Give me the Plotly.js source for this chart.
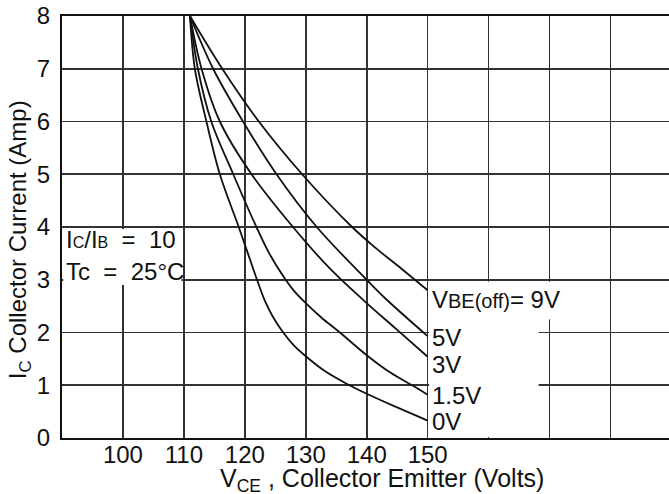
<!DOCTYPE html>
<html>
<head>
<meta charset="utf-8">
<script src="https://cdn.plot.ly/plotly-3.0.1.min.js"></script>
<style>html,body{margin:0;padding:0;background:#fff;}#chart{width:669px;height:494px;}</style>
</head>
<body>
<div id="chart"></div>
<script>
// ---- data ----
const seriesNames = ['0V', '1.5V', '3V', '5V', '9V'];
const vce_0V   = [111, 111.8, 113.7, 115.9, 119.0, 120.5, 122.0, 123.3, 124.6, 126.3, 128.0, 130.0, 133.0, 136.7, 140.0, 145.0, 150.0];
const ic_0V    = [8.0, 7.0, 6.0, 5.0, 4.0, 3.5, 3.0, 2.6, 2.3, 2.0, 1.76, 1.55, 1.28, 1.03, 0.84, 0.58, 0.33];
const vce_1p5V = [111, 112.3, 114.5, 118.1, 121.9, 124.0, 126.7, 128.0, 129.8, 132.5, 135.6, 140.0, 144.0, 147.6, 150.0];
const ic_1p5V  = [8.0, 7.0, 6.0, 5.0, 4.0, 3.5, 3.0, 2.8, 2.58, 2.29, 2.0, 1.57, 1.23, 0.99, 0.82];
const vce_3V   = [111, 112.9, 115.9, 121.1, 127.9, 133.9, 139.4, 145.0, 150.0];
const ic_3V    = [8.0, 7.0, 6.0, 5.0, 4.0, 3.22, 2.62, 2.05, 1.54];
const vce_5V   = [111, 114.8, 119.7, 125.2, 131.8, 140.0, 143.2, 150.0];
const ic_5V    = [8.0, 7.0, 6.0, 5.0, 4.0, 3.0, 2.63, 1.93];
const vce_9V   = [111, 116.3, 122.3, 129.4, 137.6, 141.5, 145.8, 150.0];
const ic_9V    = [8.0, 7.0, 6.0, 5.0, 4.0, 3.6, 3.2, 2.8];
const xTickVals = [100, 110, 120, 130, 140, 150, 160, 170, 180];
const xTickText = ['100', '110', '120', '130', '140', '150', ' ', ' ', ' '];
const yTickVals = [0, 1, 2, 3, 4, 5, 6, 7, 8];
const curveLabels = ['0V', '1.5V', '3V', '5V', 'V<span style="font-size:20px">BE(off)</span>= 9V'];
const curveLabelY = [0.31, 0.80, 1.40, 1.90, 2.62];

const FONT = 'Liberation Sans, Arial, sans-serif';
const xs = [vce_0V, vce_1p5V, vce_3V, vce_5V, vce_9V];
const ys = [ic_0V, ic_1p5V, ic_3V, ic_5V, ic_9V];

const traces = seriesNames.map((n, i) => ({
  type: 'scatter', mode: 'lines', name: n,
  x: xs[i], y: ys[i],
  line: {color: '#111', width: 1.8, shape: 'spline', smoothing: 1},
  hoverinfo: 'skip'
}));

const annotations = curveLabels.map((t, i) => ({
  x: 150.4, y: curveLabelY[i], xref: 'x', yref: 'y',
  text: t, showarrow: false, xanchor: 'left', yanchor: 'middle',
  font: {family: FONT, size: 24, color: '#111'}
}));
annotations.push(
  {x: 90.3, y: 3.76, xref: 'x', yref: 'y', xanchor: 'left', yanchor: 'middle', showarrow: false,
   text: 'I<span style="font-size:16px">C</span>/I<span style="font-size:16px">B</span>  =  10',
   font: {family: FONT, size: 24, color: '#111'}},
  {x: 90.3, y: 3.16, xref: 'x', yref: 'y', xanchor: 'left', yanchor: 'middle', showarrow: false,
   text: 'Tc  =  25°C',
   font: {family: FONT, size: 24, color: '#111'}},
  {x: 0.527, y: -0.1, xref: 'paper', yref: 'paper', xanchor: 'center', yanchor: 'middle', showarrow: false,
   text: 'V<sub>CE</sub> , Collector Emitter (Volts)',
   font: {family: FONT, size: 25, color: '#111'}},
  {x: -0.07, y: 0.47, xref: 'paper', yref: 'paper', xanchor: 'center', yanchor: 'middle', showarrow: false,
   textangle: -90,
   text: 'I<sub>C</sub> Collector Current (Amp)',
   font: {family: FONT, size: 24, color: '#111'}}
);

const layout = {
  width: 669, height: 494,
  margin: {l: 62, r: 0, t: 16, b: 56},
  paper_bgcolor: '#fff', plot_bgcolor: '#fff',
  showlegend: false,
  xaxis: {
    range: [90, 189.6], tickvals: xTickVals, ticktext: xTickText,
    showgrid: true, gridcolor: '#333', gridwidth: 1.6,
    zeroline: false, showline: true, mirror: true, linecolor: '#111', linewidth: 2.2,
    ticks: '', ticklabelstandoff: -6, tickfont: {family: FONT, size: 24, color: '#111'}
  },
  yaxis: {
    range: [0, 8], tickvals: yTickVals,
    showgrid: true, gridcolor: '#333', gridwidth: 1.6,
    zeroline: false, showline: true, mirror: false, linecolor: '#111', linewidth: 2.2,
    ticks: '', ticklabelstandoff: 5, tickfont: {family: FONT, size: 24, color: '#111'}
  },
  shapes: [
    {type: 'rect', xref: 'x', yref: 'y', x0: 90.2, x1: 109.6, y0: 2.9, y1: 3.96,
     fillcolor: '#fff', line: {width: 0}, layer: 'between'},
    {type: 'rect', xref: 'x', yref: 'y', x0: 150.25, x1: 168.2, y0: 0.02, y1: 2.96,
     fillcolor: '#fff', line: {width: 0}, layer: 'between'},
    {type: 'rect', xref: 'x', yref: 'y', x0: 168.2, x1: 171, y0: 2.25, y1: 2.96,
     fillcolor: '#fff', line: {width: 0}, layer: 'between'}
  ],
  annotations: annotations
};

Plotly.newPlot('chart', traces, layout, {staticPlot: true, displayModeBar: false});
</script>
</body>
</html>
